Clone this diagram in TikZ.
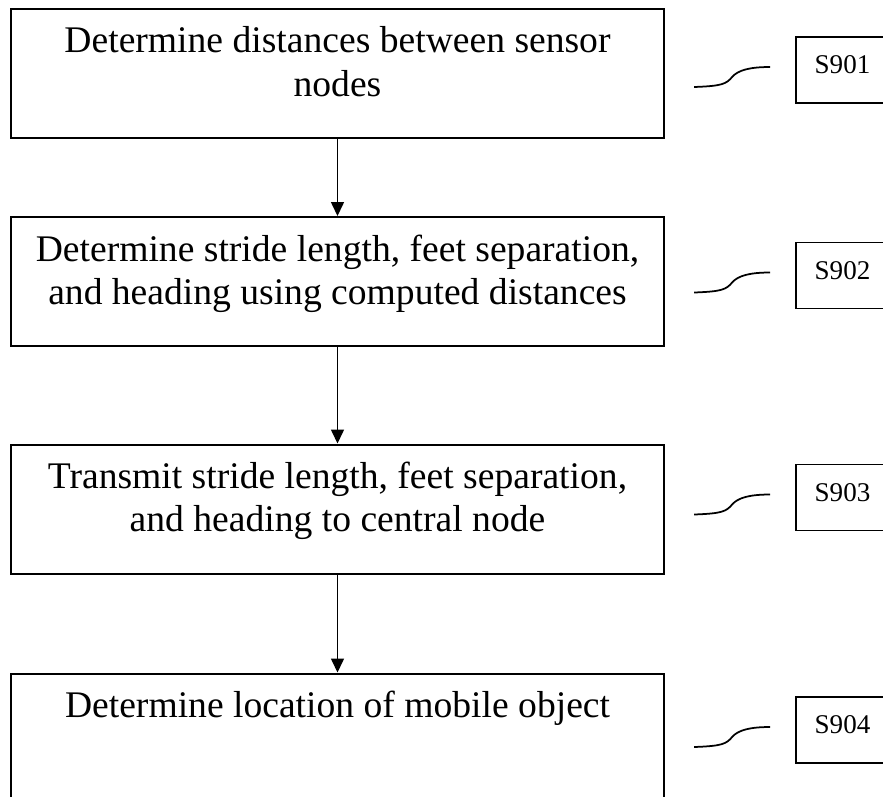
\documentclass[tikz,border=0pt]{standalone}
\usepackage{fontspec}
\setmainfont{Liberation Serif}
\usetikzlibrary{arrows.meta,positioning}
\tikzset{
  stepbox/.style={draw, line width=0.04cm, minimum width=13.06cm, minimum height=2.58cm, inner sep=0pt},
  steptext/.style={inner sep=0pt, align=center, font=\fontsize{21.4}{24.5}\selectfont},
  tagbox/.style={draw, line width=0.035cm, minimum width=1.86cm, minimum height=1.32cm, inner sep=0pt, text depth=0.22cm, font=\fontsize{15.4}{18}\selectfont},
  flow/.style={-{Triangle[width=0.26cm,length=0.28cm]}, line width=0.03cm},
  leader/.style={line width=0.035cm}
}
\begin{document}
\begin{tikzpicture}[x=0.02cm, y=-0.02cm]
\useasboundingbox (0,0) rectangle (883,796);
\clip (0,0) rectangle (883,796);
% step boxes
\node[stepbox] (b1) at (337.5,73.5) {};
\node[stepbox] (b2) at (337.5,281.5) {};
\node[stepbox] (b3) at (337.5,509) {};
\node[stepbox] (b4) at (337.5,738) {};
\node[steptext, below=0.37cm of b1.north] (t1) {Determine distances between sensor\\nodes};
\node[steptext, below=0.37cm of b2.north] (t2) {Determine stride length, feet separation,\\and heading using computed distances};
\node[steptext, below=0.37cm of b3.north] (t3) {Transmit stride length, feet separation,\\and heading to central node};
\node[steptext, below=0.37cm of b4.north] (t4) {Determine location of mobile object};
\draw[flow] (b1) -- (b2);
\draw[flow] (b2) -- (b3);
\draw[flow] (b3) -- (b4);
% step numbers
\node[tagbox] (l1) at (842.5,70) {S901};
\node[tagbox] (l2) at (842.5,275.5) {S902};
\node[tagbox] (l3) at (842.5,497.5) {S903};
\node[tagbox] (l4) at (842.5,730) {S904};
\draw[leader] (l1.west) ++(-101,17) .. controls +(28,-1) and +(-6,7) .. ++(38,-10) .. controls +(6,-7) and +(-20,0) .. ++(38,-10);
\draw[leader] (l2.west) ++(-101,17) .. controls +(28,-1) and +(-6,7) .. ++(38,-10) .. controls +(6,-7) and +(-20,0) .. ++(38,-10);
\draw[leader] (l3.west) ++(-101,17) .. controls +(28,-1) and +(-6,7) .. ++(38,-10) .. controls +(6,-7) and +(-20,0) .. ++(38,-10);
\draw[leader] (l4.west) ++(-101,17) .. controls +(28,-1) and +(-6,7) .. ++(38,-10) .. controls +(6,-7) and +(-20,0) .. ++(38,-10);
\end{tikzpicture}
\end{document}
